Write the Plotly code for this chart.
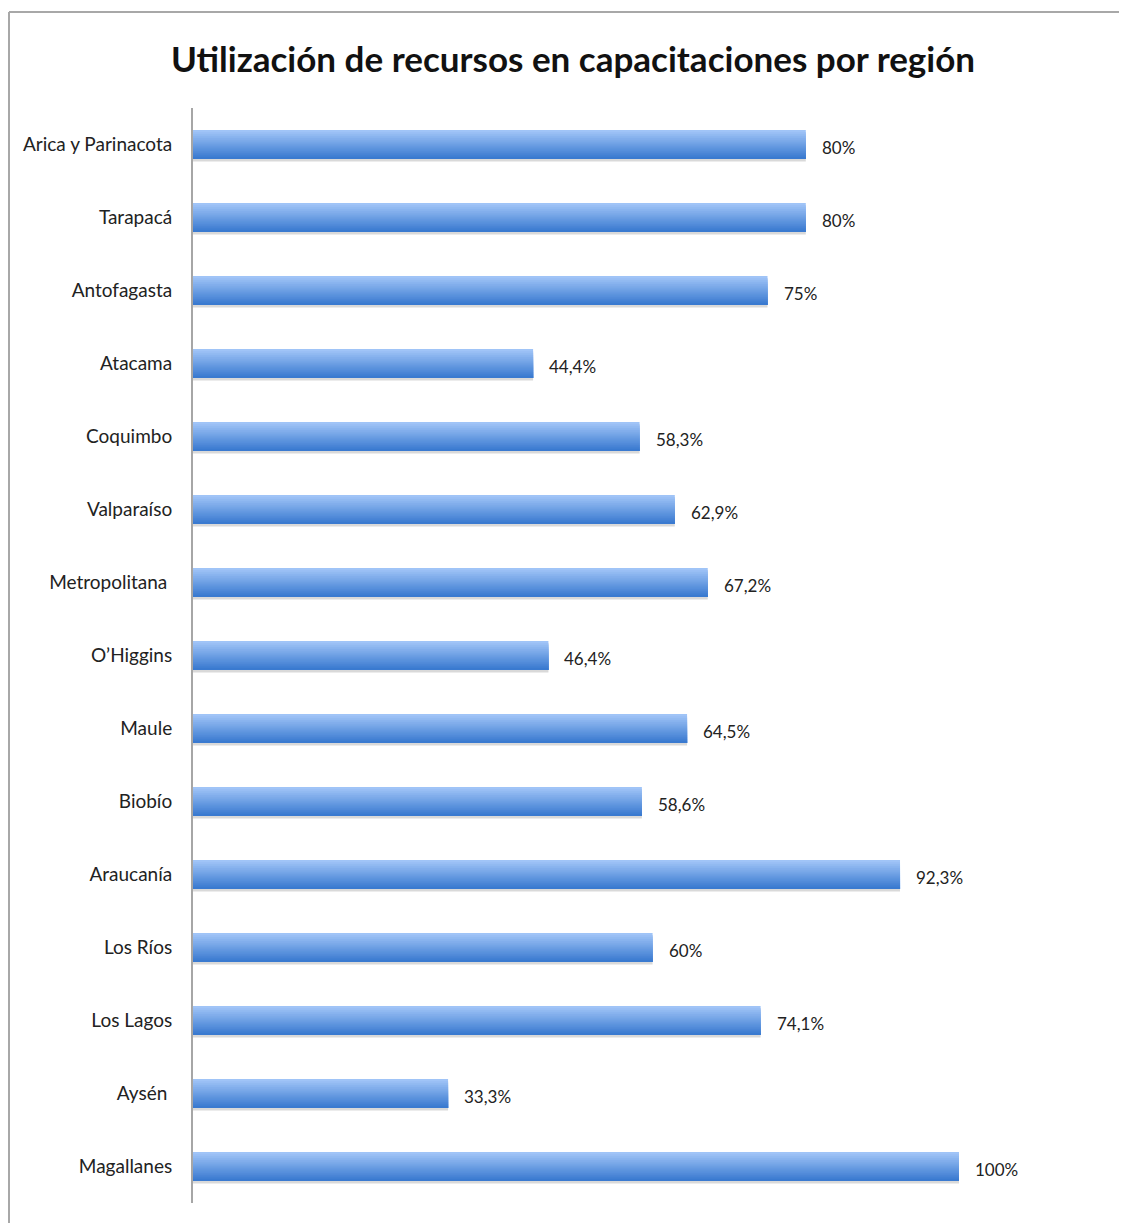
import plotly.graph_objects as go

regions = ["Arica y Parinacota", "Tarapacá", "Antofagasta", "Atacama", "Coquimbo",
           "Valparaíso", "Metropolitana ", "O’Higgins", "Maule", "Biobío",
           "Araucanía", "Los Ríos", "Los Lagos", "Aysén ", "Magallanes"]
values = [80, 80, 75, 44.4, 58.3, 62.9, 67.2, 46.4, 64.5, 58.6, 92.3, 60, 74.1, 33.3, 100]
labels = [f"{v:g}".replace(".", ",") + "%" for v in values]

W, H = 1127, 1223
OFF = 8  # default page body margin
ml, mr, mt, mb = 193 - OFF, 60, 108 - OFF, 28
pw, ph = W - ml - mr, H - mt - mb

fig = go.Figure()

bar_w = 0.395
# shadow
fig.add_trace(go.Bar(x=values, y=regions, orientation="h",
                     offset=-bar_w / 2 + 0.035, width=bar_w,
                     marker=dict(color="rgba(0,0,0,0.15)", line=dict(width=0)),
                     hoverinfo="skip", showlegend=False))
# gradient bands (each band extends to the bar bottom to avoid seams)
N = 14
top = (160, 196, 247)
bot = (58, 122, 208)
h = bar_w / N
for k in range(N):
    t = k / (N - 1)
    c = tuple(int(round(top[j] + (bot[j] - top[j]) * t)) for j in range(3))
    fig.add_trace(go.Bar(x=values, y=regions, orientation="h",
                         offset=-bar_w / 2 + k * h, width=bar_w - k * h,
                         marker=dict(color=f"rgb{c}", line=dict(width=0)),
                         hoverinfo="skip", showlegend=False))

for r, v, lab in zip(regions, values, labels):
    fig.add_annotation(x=v, y=r, text=lab, showarrow=False, xanchor="left",
                       yanchor="middle", xshift=14, yshift=-3,
                       font=dict(family="Lato", size=17, color="#222"))

# x range so that 100% ends at pixel 960 of the reference
xmax = 100 * pw / (960 - 194)

fig.update_layout(
    width=W, height=H,
    margin=dict(l=ml, r=mr, t=mt, b=mb, pad=0),
    barmode="overlay",
    paper_bgcolor="white", plot_bgcolor="white",
    title=dict(text="<b>Utilización de recursos en capacitaciones por región</b>",
               x=(573 - OFF) / W, xanchor="center", y=1 - (60 - OFF) / H, yanchor="middle",
               yref="container", xref="container",
               font=dict(family="Lato", size=35, color="#111")),
    xaxis=dict(range=[0, xmax], visible=False, showgrid=False, zeroline=False),
    yaxis=dict(autorange="reversed", showline=True, linecolor="#a6a6a6", linewidth=2,
               ticks="", showgrid=False, zeroline=False, ticklabelstandoff=15,
               tickfont=dict(family="Lato", size=19, color="#222")),
    showlegend=False,
)

# outer frame (top and left edges of the chart box), in figure pixels
fx0 = (1.0 - ml) / pw
fy1 = (H - mb - (12 - OFF)) / ph
fig.add_shape(type="line", xref="paper", yref="paper", x0=fx0, x1=(W - ml) / pw,
              y0=fy1, y1=fy1, line=dict(color="#a8a8a8", width=2))
fig.add_shape(type="line", xref="paper", yref="paper", x0=fx0, x1=fx0,
              y0=fy1, y1=-mb / ph, line=dict(color="#a8a8a8", width=2))

fig.write_html("out.html")
